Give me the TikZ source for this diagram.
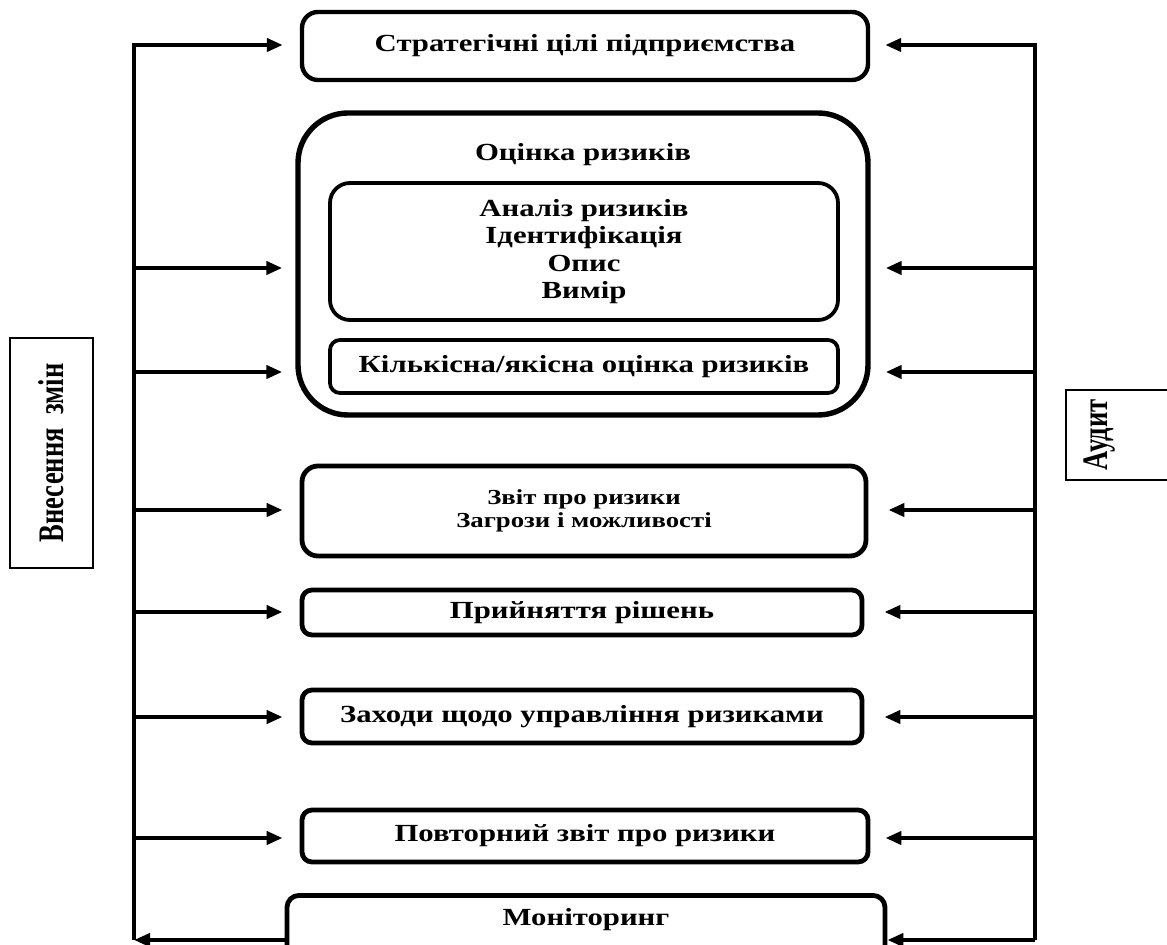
\documentclass[tikz,border=0pt]{standalone}
\usepackage{fontspec}
\setmainfont{Liberation Serif}[FakeStretch=1.25]
\newfontfamily\sidefont{Liberation Serif}
\usetikzlibrary{arrows.meta}
\begin{document}
\begin{tikzpicture}[x=0.5pt,y=-0.5pt,
  box/.style={draw, line width=2.4pt, rounded corners=6pt, align=center, inner sep=0pt,
    font=\bfseries\fontsize{12.3}{13.6}\selectfont},
  arr/.style={line width=2pt, -{Triangle[length=8pt,width=6.5pt]}},
  ln/.style={line width=2pt},
  sidebox/.style={draw, line width=0.8pt, inner sep=0pt},
  sidetext/.style={rotate=90, inner sep=0pt, font=\sidefont\bfseries\fontsize{13.3}{14}\selectfont}]
\useasboundingbox (0,0) rectangle (1167,945);
\clip (0,0) rectangle (1167,945);
\fill[white] (0,0) rectangle (1167,945);

% boxes
\node[box, line width=2.2pt, minimum width=283pt, minimum height=34pt, rounded corners=8pt] (top) at (585,46) {Стратегічні цілі підприємства};
\node[box, line width=2.7pt, minimum width=285pt, minimum height=151pt, rounded corners=25pt] (big) at (583,264) {};
\node[box, draw=none] (title) at (583,155) {Оцінка ризиків};
\node[box, line width=1.9pt, minimum width=254pt, minimum height=68.5pt, rounded corners=10pt] (anal) at (584,251.5) {Аналіз ризиків\\Ідентифікація\\Опис\\Вимір};
\node[box, line width=1.9pt, minimum width=254pt, minimum height=26.5pt, rounded corners=5pt] (kilk) at (584,366.5) {Кількісна/якісна оцінка ризиків};
\node[box, minimum width=282pt, minimum height=45pt, rounded corners=8pt, font=\bfseries\fontsize{10.7}{11.5}\selectfont] (zvit) at (584,511) {Звіт про ризики\\Загрози і можливості};
\node[box, minimum width=280pt, minimum height=22.5pt, rounded corners=5pt] (pryin) at (582,612.5) {Прийняття рішень};
\node[box, minimum width=280pt, minimum height=26.5pt, rounded corners=5pt] (zakh) at (582,716.5) {Заходи щодо управління ризиками};
\node[box, minimum width=283pt, minimum height=26pt, rounded corners=5pt] (povt) at (585,836) {Повторний звіт про ризики};
\node[box, anchor=north, minimum width=299pt, text height=15pt, text depth=35pt, rounded corners=6pt] (mon) at (586,893) {Моніторинг};

% side labels
\node[sidebox, minimum width=41.5pt, minimum height=115pt] (lbox) at (51.5,453) {};
\node[sidetext] (ltext) at (lbox.center) {\scalebox{1}[1.35]{Внесення\ \ змін}};
\node[sidebox, anchor=west, minimum width=60pt, minimum height=45pt] (rbox) at (1065,435) {};
\node[sidetext] (rtext) at (1100,435) {\scalebox{1}[1.35]{Аудит}};

% trunk coordinates
\coordinate (lt) at (134,45);
\coordinate (lb) at (134,940);
\coordinate (rt) at (1035,45);
\coordinate (rb) at (1035,940);
\coordinate (l1) at (134,268);
\coordinate (l2) at (134,372);
\coordinate (l3) at (134,510);
\coordinate (l4) at (134,612);
\coordinate (l5) at (134,717);
\coordinate (l6) at (134,838);
\coordinate (r1) at (1035,268);
\coordinate (r2) at (1035,372);
\coordinate (r3) at (1035,510);
\coordinate (r4) at (1035,612);
\coordinate (r5) at (1035,717);
\coordinate (r6) at (1035,838);

% left side
\draw[arr, shorten >=8.5pt] (lb) -- (lt) -- (lt -| top.west);
\draw[arr, shorten >=6.5pt] (l1) -- (l1 -| big.west);
\draw[arr, shorten >=6.5pt] (l2) -- (l2 -| big.west);
\draw[arr, shorten >=8.5pt] (l3) -- (l3 -| zvit.west);
\draw[arr, shorten >=8.5pt] (l4) -- (l4 -| pryin.west);
\draw[arr, shorten >=8.5pt] (l5) -- (l5 -| zakh.west);
\draw[arr, shorten >=8.5pt] (l6) -- (l6 -| povt.west);
\draw[arr] (lb -| mon.west) -- (lb);

% right side
\draw[arr, shorten >=7.5pt] (rb) -- (rt) -- (rt -| top.east);
\draw[arr, shorten >=7.5pt] (r1) -- (r1 -| big.east);
\draw[arr, shorten >=7.5pt] (r2) -- (r2 -| big.east);
\draw[arr, shorten >=10pt] (r3) -- (r3 -| zvit.east);
\draw[arr, shorten >=10pt] (r4) -- (r4 -| pryin.east);
\draw[arr, shorten >=10pt] (r5) -- (r5 -| zakh.east);
\draw[arr, shorten >=7.5pt] (r6) -- (r6 -| povt.east);
\draw[arr] (rb) -- (rb -| mon.east);
\end{tikzpicture}
\end{document}
